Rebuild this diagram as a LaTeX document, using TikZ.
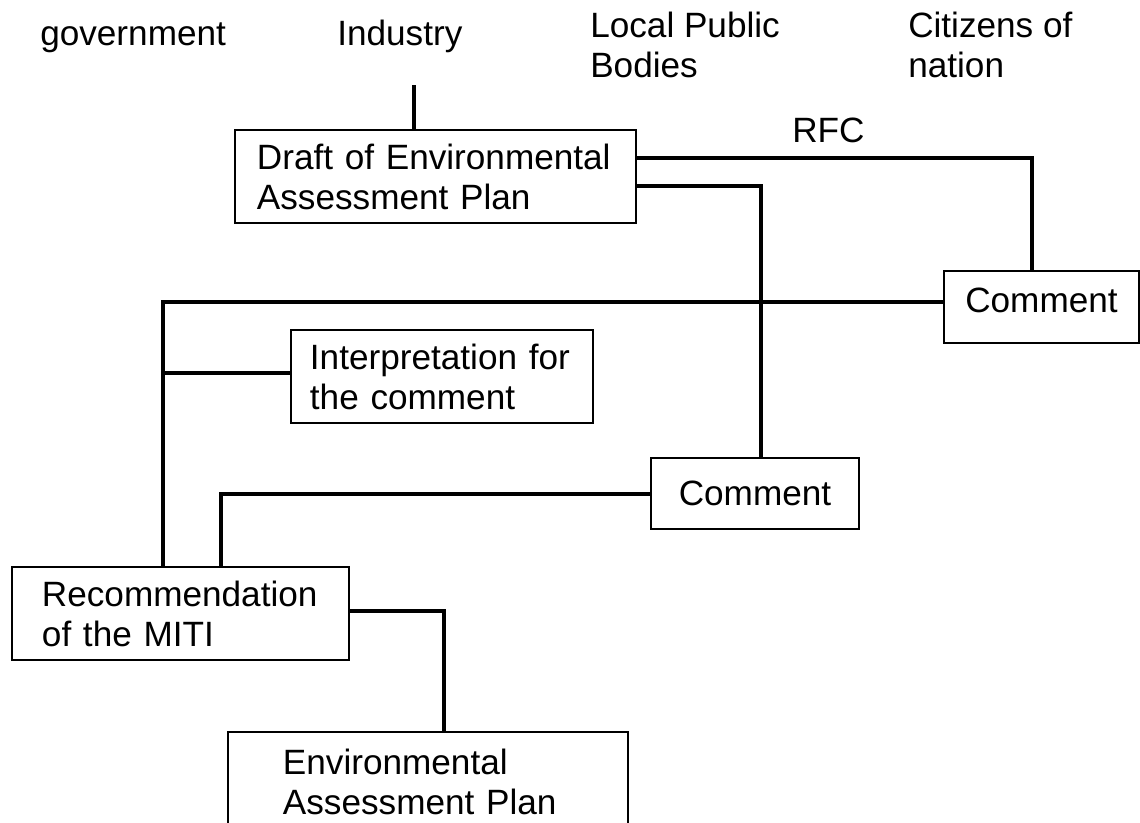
\documentclass[tikz,border=0pt]{standalone}
\usepackage{fontspec}
\setmainfont{Liberation Sans}
\begin{document}
\begin{tikzpicture}[x=0.025cm,y=-0.025cm,
  every node/.style={font=\fontsize{25pt}{28.5pt}\selectfont},
  party/.style={inner sep=0pt,align=left},
  box/.style={draw,line width=1.5pt,inner ysep=0pt},
  link/.style={line width=3.5pt}]
\clip (0,0) rectangle (1140,823);
% parties
\node[party,anchor=base west] (gov) at (40,45) {government};
\node[party,anchor=base west] (ind) at (337,45) {Industry};
\node[party,anchor=north west] (lpb) at (590,12) {Local Public\\Bodies};
\node[party,anchor=north west] (cit) at (908,12) {Citizens of\\nation};
% boxes
\node[box,minimum width=10.025cm,minimum height=2.325cm,inner xsep=0.55cm,text width=8.925cm,align=left] (draft) at (435.5,176.5) {Draft of Environmental\\Assessment Plan};
\node[box,minimum width=4.875cm,minimum height=1.8cm,text depth=9pt,align=center] (cmt1) at (1041.5,307) {Comment};
\node[box,minimum width=7.55cm,minimum height=2.325cm,inner xsep=0.475cm,text width=6.6cm,align=left] (interp) at (442,376.5) {Interpretation for\\the comment};
\node[box,minimum width=5.2cm,minimum height=1.775cm,align=center] (cmt2) at (755,493.5) {Comment};
\node[box,minimum width=8.425cm,minimum height=2.325cm,inner xsep=0.75cm,text width=6.925cm,align=left] (rec) at (180.5,613.5) {Recommendation\\of the MITI};
\node[box,minimum width=10cm,minimum height=2.5cm,inner xsep=1.375cm,text width=7.25cm,align=left] (eap) at (428,782) {Environmental\\Assessment Plan};
\node[party,anchor=base west] (rfc) at (792,142) {RFC};
% connectors
\coordinate (indl) at (414,85);
\draw[link] (indl) -- (draft.north -| indl);
\draw[link] (draft.east |- 0,158) -| (cmt1.north -| 1032,0);
\draw[link] (draft.east |- 0,186) -| (cmt2.north -| 761,0);
\draw[link] (cmt1.west |- 0,302) -| (rec.north -| 163,0);
\coordinate (jn) at (163,373);
\draw[link] (jn) -- (interp.west |- jn);
\draw[link] (cmt2.west |- 0,494) -| (rec.north -| 221,0);
\draw[link] (rec.east |- 0,611) -| (eap.north -| 444,0);
\end{tikzpicture}
\end{document}
